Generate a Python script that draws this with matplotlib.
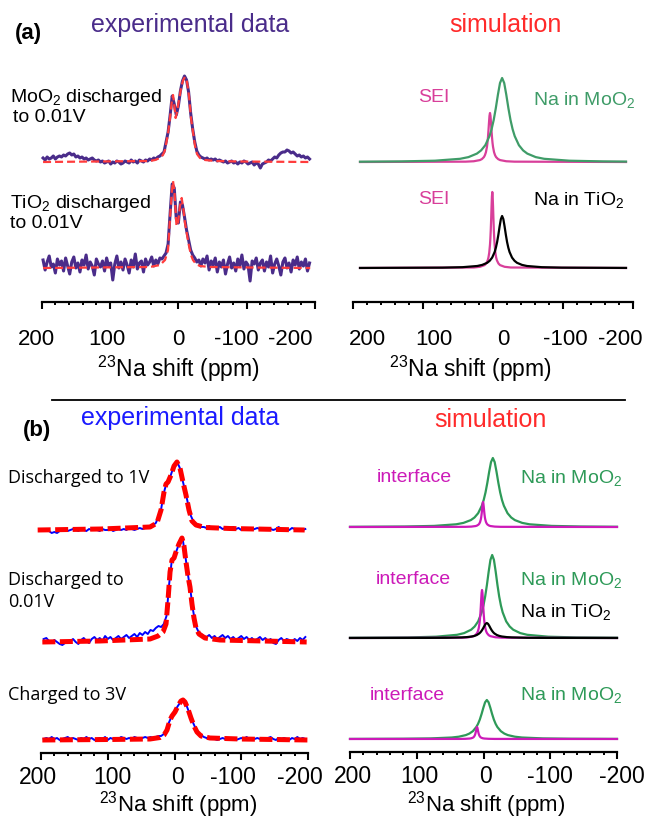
import numpy as np
import matplotlib
matplotlib.use("Agg")
import matplotlib.pyplot as plt
from matplotlib.ticker import MultipleLocator
from matplotlib.lines import Line2D

plt.rcParams['font.family'] = ['Liberation Sans', 'DejaVu Sans']
plt.rcParams['mathtext.fontset'] = 'custom'
plt.rcParams['mathtext.rm'] = 'Liberation Sans'
plt.rcParams['mathtext.default'] = 'rm'

W, H = 649, 818

# ---------------- (a) experimental, 23Na shift grid (ppm) ----------------
ppm_exp_a = np.arange(198, -193, -3)
moo2_exp_a = [4, 2, 5, 3, 4, 6, 3, 5, 6, 5, 7, 6, 8, 9, 7, 8, 5,
              6, 4, 5, 3, 4, 2, 3, 4, 2, 1, 2, 0,
              1, -1, 0, 1, -2, 0, -1, 1, 0, -2, -1, 1, 0, -1, 2, 0, 1, -1, 2, 1, 0, 2, 1,
              3, 2, 4, 3, 5, 6,
              8, 10, 20, 30, 47, 66, 58, 47, 56, 71, 81, 86, 82, 70, 49, 33, 20, 11, 7,
              5, 4, 3, 4, 2, 3, 2, 3, 1,
              2, 1, 0, 1, -1, 0, 1, -1, 0, -2, 0, -1, 1, 0, -2, -1, 0, -3, -1, -2,
              -6, -2, -1, 0, 2, 1, 3, 5, 4, 7, 9, 10, 10, 12, 11, 9, 10, 8, 6, 7, 5, 6, 4, 5, 3]
tio2_exp_a = [8, -2, 6, 12, 1, 4, -5, 9, 3, 7, -3, 10, 2, -6, 6, 11, 0,
              5, -4, 8, 3, 13, -1, 6, 2, -7, 9, 4, 1,
              7, -3, 10, 2, 5, -12, 4, 12, 0, 6, -2, 9, 3, -5, 8, 1, 14, -1, 5, 7, -4, 9, 3,
              6, 11, 2, 8, 4, 10,
              9, 12, 15, 24, 55, 84, 80, 49, 45, 66, 63, 51, 38, 28, 18, 13, 10, 6, 8,
              2, 9, 5, 12, -2, 7, 3, 10, -4,
              6, 1, 8, -6, 4, 11, 0, 5, -3, 9, 2, 13, -1, 6, 3, -13, 7, 4, 10, -2,
              5, 8, -3, 6, 1, 12, -5, 4, 9, 2, -7, 6, 10, 0, 5, -4, 8, 3, 11, -1, 6, 2, 9, -3, 5]

# (a) fits
ppm_moo2_fit_a = [198, 42, 34, 27, 22.5, 19.5, 15, 12, 9.3, 7.8, 6.4, 4, 2, -1, -4, -7, -9.7,
                  -12.7, -15.6, -18.5, -21.4, -24.4, -27.3, -31.7, -39, -54, -90, -193]
moo2_fit_a = [0, 1, 2, 4, 7, 12, 29, 45, 62, 67, 60, 44, 50, 62, 74, 82, 85,
              80, 66, 44, 30, 16, 8, 4, 2, 1, 0.5, 0]
ppm_tio2_fit_a = [198, 41.5, 26.9, 19.5, 15.1, 12.2, 9.3, 7.8, 5.6, 2.7, 0.5, -2.4, -4.9, -7.5,
                  -9.7, -12.7, -15.6, -18.5, -21.4, -25.8, -31.7, -46, -105, -193]
tio2_fit_a = [0, 1, 3, 8, 18, 50, 78, 87, 75, 42, 45, 62, 70, 58,
              45, 33, 22, 13, 8, 4, 2, 1, 0.5, 0]

# (a) simulation
ppm_na_moo2_a = [190, 131, 83, 47, 35, 23, 17, 11, 5, 2, -1, -4, -7, -10, -13, -16, -19, -22,
                 -25, -28, -31, -37, -43, -49, -61, -73, -109, -157, -190]
na_moo2_a = [0.3, 0.6, 1.3, 3.2, 4.9, 8.4, 11.6, 16.8, 25.9, 32.8, 42, 53.8, 67.2, 79, 84, 79,
             67.2, 53.8, 42, 32.8, 25.9, 16.8, 11.6, 8.4, 4.9, 3.2, 1.3, 0.6, 0.4]
ppm_sei_moo2_a = [190, 39.1, 27.5, 18.8, 15.9, 13, 11.55, 10.1, 8.65, 7.93, 7.2, 6.48, 5.75, 5.03,
                  4.3, 3.58, 2.85, 2.13, 1.4, 0.68, -0.05, -1.5, -2.95, -4.4, -7.3, -10.2,
                  -18.9, -30.5, -190]
sei_moo2_a = [0, 0.34, 0.75, 1.9, 2.9, 4.9, 6.8, 9.8, 15.1, 19.1, 24.5, 31.4, 39.2, 46.1, 49,
              46.1, 39.2, 31.4, 24.5, 19.1, 15.1, 9.8, 6.8, 4.9, 2.9, 1.9, 0.75, 0.34, 0]
ppm_sei_tio2_a = [190, 27.4, 18.6, 12, 9.8, 7.6, 6.5, 5.4, 4.3, 3.75, 3.2, 2.65, 2.1, 1.55, 1,
                  0.45, -0.1, -0.65, -1.2, -1.75, -2.3, -3.4, -4.5, -5.6, -7.8, -10, -16.6,
                  -25.4, -190]
sei_tio2_a = [0, 0.5, 1.2, 2.9, 4.5, 7.6, 10.5, 15.2, 23.4, 29.6, 38, 48.6, 60.8, 71.5, 76,
              71.5, 60.8, 48.6, 38, 29.6, 23.4, 15.2, 10.5, 7.6, 4.5, 2.9, 1.2, 0.5, 0]
ppm_na_tio2_a = [190, 72.2, 43.8, 22.5, 15.4, 8.3, 4.75, 1.2, -2.35, -4.13, -5.9, -7.68, -9.45,
                 -11.23, -13, -14.78, -16.55, -18.33, -20.1, -21.88, -23.65, -27.2, -30.75,
                 -34.3, -41.4, -48.5, -69.8, -98.2, -190]
na_tio2_a = [0.06, 0.36, 0.8, 2.0, 3.1, 5.2, 7.2, 10.4, 16, 20.3, 26, 33.3, 41.6, 48.9, 52,
             48.9, 41.6, 33.3, 26, 20.3, 16, 10.4, 7.2, 5.2, 3.1, 2.0, 0.8, 0.36, 0.08]

# ---------------- (b) experimental ----------------
ppm_exp_b = np.arange(196, -197, -4)
exp_b1 = [0, 1, -1, -3, -2, -3, -1, 0, 1, -1, 0, 1, 0, -1, 1, 0, -1, 1, 0, 1,
          0, -1, 1, 0, 0, 1, -1, 0, 1, 0, 1, 0, 2, 1, 0, 1, 2, 1, 2, 3,
          4, 5, 7, 13, 21, 37, 47, 50, 58, 64, 68, 62, 50, 39, 27, 15, 9, 6, 5, 3,
          3, 2, 4, 1, 2, 2, 3, 1, 2, 1, 2, 3, 1, 2, 0, 1, 2, 1, 0, 1,
          2, 1, 1, 0, 2, 1, 0, 1, 3, 1, 0, 1, 0, 2, 1, 0, 1, 0, 1]
exp_b2 = [3, 4, 1, -1, 2, 0, -2, -3, -1, 0, 1, 3, 0, -2, 2, 4, 1, -1, 3, 5,
          2, 4, 1, 6, 3, 5, 2, 4, 6, 3, 5, 7, 4, 6, 8, 5, 9, 7, 10, 8,
          12, 11, 14, 16, 15, 18, 26, 58, 82, 86, 93, 101, 104, 87, 68, 51, 31, 16, 10, 8,
          6, 5, 7, 4, 6, 3, 5, 7, 4, 6, 3, 5, 2, 4, 6, 3, 5, 2, 4, 1,
          3, 5, 2, 4, 1, 3, -1, -2, 2, 4, 1, 3, 2, 0, 3, 1, 4, 2, 5]
exp_b3 = [1, 2, 1, 3, 1, 2, 0, 1, 2, 3, 1, 2, 1, 0, 2, 1, 3, 1, 2, 0,
          1, 2, 1, 3, 0, 2, 1, 2, 1, 3, 2, 1, 2, 1, 3, 2, 1, 2, 3, 2,
          3, 2, 3, 4, 4, 6, 10, 18, 24, 28, 33, 37, 40, 38, 31, 24, 17, 11, 7, 5,
          3, 2, 1, 2, 1, 0, 1, 2, 1, 0, 1, 2, 0, 1, 2, 1, 3, 1, 0, 1,
          2, 1, 0, 1, 2, 3, 1, 0, 2, 1, 2, 1, 0, 2, 1, 3, 1, 2, 1]

# (b) fits
ppm_fit_b1 = [205, 110, 36.7, 26.2, 20.2, 15.7, 12.7, 9.7, 5.2, 0.7, -3.7, -8.2, -12.7, -17.2,
              -21.7, -26.2, -32.2, -45.7, -83, -195]
fit_b1 = [0, 1, 3, 7, 20, 38, 46, 48, 55, 64, 68, 62, 48, 35, 20, 9, 5, 2.5, 1.5, 0]
ppm_fit_b2 = [198, 112, 36.7, 24.7, 17.2, 12.7, 9.7, 6.7, 3.7, 0.7, -2.2, -6.7, -11.2, -14.2,
              -17.2, -20.2, -23.2, -26.2, -29.2, -32.2, -36.7, -45.7, -68, -198]
fit_b2 = [0, 1, 3, 6, 10, 18, 42, 70, 82, 84, 90, 98, 104, 96, 80, 66, 55, 38, 24, 14, 8, 4, 2, 0]
ppm_fit_b3 = [198, 98, 36.7, 21.7, 15.7, 11.2, 6.7, 3.7, -0.7, -5.2, -9.7, -12.7, -15.7, -20.2,
              -24.7, -29.2, -33.7, -39.7, -53, -98, -200]
fit_b3 = [0, 0.5, 1, 2.5, 5, 10, 20, 24, 28, 34, 39, 40, 38, 31, 22, 14, 8, 4, 2, 1, 0]

# (b) simulation
ppm_moo2_b1 = [200, 118, 74, 41, 30, 19, 13.5, 8, 2.5, -0.25, -3, -5.75, -8.5, -11.25, -14,
               -16.75, -19.5, -22.25, -25, -27.75, -30.5, -36, -41.5, -47, -58, -69, -102, -146, -200]
moo2_b1 = [0.18, 0.5, 1.1, 2.7, 4.1, 6.9, 9.5, 13.8, 21.3, 26.9, 34.5, 44.2, 55.2, 64.9, 69,
           64.9, 55.2, 44.2, 34.5, 26.9, 21.3, 13.8, 9.5, 6.9, 4.1, 2.7, 1.1, 0.5, 0.24]
ppm_int_b1 = [200, 27.1, 18.3, 11.7, 9.5, 7.3, 6.2, 5.1, 4, 3.45, 2.9, 2.35, 1.8, 1.25, 0.7,
              0.15, -0.4, -0.95, -1.5, -2.05, -2.6, -3.7, -4.8, -5.9, -8.1, -10.3, -16.9, -25.7, -200]
int_b1 = [0, 0.17, 0.39, 0.96, 1.5, 2.5, 3.45, 5, 7.7, 9.75, 12.5, 16, 20, 23.5, 25,
          23.5, 20, 16, 12.5, 9.75, 7.7, 5, 3.45, 2.5, 1.5, 0.96, 0.39, 0.17, 0]
ppm_moo2_b2 = [200, 113, 71, 39.5, 29, 18.5, 13.25, 8, 2.75, 0.13, -2.5, -5.13, -7.75, -10.38,
               -13, -15.63, -18.25, -20.88, -23.5, -26.13, -28.75, -34, -39.25, -44.5, -55,
               -65.5, -97, -139, -200]
moo2_b2 = [0.2, 0.57, 1.3, 3.2, 4.9, 8.3, 11.5, 16.6, 25.6, 32.4, 41.5, 53.1, 66.4, 78.1, 83,
           78.1, 66.4, 53.1, 41.5, 32.4, 25.6, 16.6, 11.5, 8.3, 4.9, 3.2, 1.3, 0.57, 0.26]
ppm_int_b2 = [200, 32.2, 22.2, 14.7, 12.2, 9.7, 8.45, 7.2, 5.95, 5.33, 4.7, 4.08, 3.45, 2.83,
              2.2, 1.58, 0.95, 0.33, -0.3, -0.93, -1.55, -2.8, -4.05, -5.3, -7.8, -10.3,
              -17.8, -27.8, -200]
int_b2 = [0, 0.33, 0.74, 1.85, 2.8, 4.8, 6.6, 9.6, 14.8, 18.7, 24, 30.7, 38.4, 45.2, 48,
          45.2, 38.4, 30.7, 24, 18.7, 14.8, 9.6, 6.6, 4.8, 2.8, 1.85, 0.74, 0.33, 0]
ppm_tio2_b2 = [200, 85, 55, 32.5, 25, 17.5, 13.75, 10, 6.25, 4.38, 2.5, 0.63, -1.25, -3.13, -5,
               -6.88, -8.75, -10.63, -12.5, -14.38, -16.25, -20, -23.75, -27.5, -35, -42.5,
               -65, -95, -200]
tio2_b2 = [0.02, 0.1, 0.23, 0.58, 0.88, 1.5, 2.07, 3, 4.6, 5.85, 7.5, 9.6, 12, 14.1, 15,
           14.1, 12, 9.6, 7.5, 5.85, 4.6, 3, 2.07, 1.5, 0.88, 0.58, 0.23, 0.1, 0.02]
ppm_moo2_b3 = [200, 121, 79, 47.5, 37, 26.5, 21.25, 16, 10.75, 8.13, 5.5, 2.88, 0.25, -2.38, -5,
               -7.63, -10.25, -12.88, -15.5, -18.13, -20.75, -26, -31.25, -36.5, -47, -57.5,
               -89, -131, -200]
moo2_b3 = [0.1, 0.27, 0.6, 1.5, 2.3, 3.9, 5.4, 7.8, 12, 15.2, 19.5, 25, 31.2, 36.7, 39,
           36.7, 31.2, 25, 19.5, 15.2, 12, 7.8, 5.4, 3.9, 2.3, 1.5, 0.6, 0.27, 0.1]
ppm_int_b3 = [200, 36.1, 27.3, 20.7, 18.5, 16.3, 15.2, 14.1, 13, 12.45, 11.9, 11.35, 10.8, 10.25,
              9.7, 9.15, 8.6, 8.05, 7.5, 6.95, 6.4, 5.3, 4.2, 3.1, 0.9, -1.3, -7.9, -16.7, -200]
int_b3 = [0, 0.08, 0.18, 0.46, 0.7, 1.2, 1.66, 2.4, 3.7, 4.7, 6, 7.7, 9.6, 11.3, 12,
          11.3, 9.6, 7.7, 6, 4.7, 3.7, 2.4, 1.66, 1.2, 0.7, 0.46, 0.18, 0.08, 0]

tick_vals = [200, 100, 0, -100, -200]
tick_text = ['200', '100', '0', '-100', '-200']
xlabel = '$^{23}$Na shift (ppm)'

# colours
purple = '#4a2c8a'
red_a = '#ff3c3c'
red_t = '#ff2a2a'
green_a = '#3f9c68'
pink_a = '#d83f9a'
blue = '#0000ff'
red_b = '#ff0000'
green_b = '#2e9a58'
mag_b = '#cc1ab8'

fig = plt.figure(figsize=(W / 100, H / 100), dpi=100)


def panel(x0, x1, y_axis, y_top):
    ax = fig.add_axes([x0 / W, 1 - y_axis / H, (x1 - x0) / W, (y_axis - y_top) / H])
    ax.set_xlim(200, -200)
    ax.set_ylim(0, y_axis - y_top)
    for s in ['top', 'left', 'right']:
        ax.spines[s].set_visible(False)
    ax.spines['bottom'].set_linewidth(1.6)
    ax.set_yticks([])
    ax.set_xticks(tick_vals)
    ax.xaxis.set_minor_locator(MultipleLocator(20))
    ax.tick_params(axis='x', which='major', direction='out', length=5, width=1.5,
                   labelbottom=False)
    ax.tick_params(axis='x', which='minor', direction='out', length=2.5, width=1.4)
    ax.patch.set_alpha(0)
    return ax


def tick_labels(ax, dx, below, size):
    for v, t, d in zip(tick_vals, tick_text, dx):
        ax.annotate(t, xy=(v, 0), xycoords=('data', 'axes fraction'),
                    xytext=(d, -below), textcoords='offset pixels',
                    ha='center', va='baseline', fontsize=size)


def ftext(x, y, s, **kw):
    fig.text(x / W, 1 - y / H, s, **kw)


# ---------- (a) experimental ----------
ax = panel(41.7, 315, 302, 60)
for base, ex, pf, fit in [(140, moo2_exp_a, ppm_moo2_fit_a, moo2_fit_a),
                          (34, tio2_exp_a, ppm_tio2_fit_a, tio2_fit_a)]:
    ax.plot(ppm_exp_a, base + np.array(ex), color=purple, lw=2.2, clip_on=False)
    ax.plot(pf, base + np.array(fit), color=red_a, lw=1.6, dashes=(3.6, 1.8), clip_on=False)
tick_labels(ax, [-5, -3, 0, -10, -25], 43, 16)

# ---------- (a) simulation ----------
ax = panel(353, 633, 302, 60)
ax.plot(ppm_sei_moo2_a, 140 + np.array(sei_moo2_a), color=pink_a, lw=1.6, clip_on=False)
ax.plot(ppm_na_moo2_a, 140 + np.array(na_moo2_a), color=green_a, lw=1.6, clip_on=False)
ax.plot(ppm_sei_tio2_a, 34 + np.array(sei_tio2_a), color=pink_a, lw=1.6, clip_on=False)
ax.plot(ppm_na_tio2_a, 34 + np.array(na_tio2_a), color='black', lw=1.6, clip_on=False)
tick_labels(ax, [14, 11, 10, 2, -13], 43, 16)

# ---------- (b) experimental ----------
ax = panel(41, 308, 753, 440)
for base, ex, pf, fit in [(223, exp_b1, ppm_fit_b1, fit_b1),
                          (111, exp_b2, ppm_fit_b2, fit_b2),
                          (13, exp_b3, ppm_fit_b3, fit_b3)]:
    ax.plot(ppm_exp_b, base + np.array(ex), color=blue, lw=1.4, clip_on=False)
    ax.plot(pf, base + np.array(fit), color=red_b, lw=3.6, dashes=(2.6, 0.9), clip_on=False)
tick_labels(ax, [-3, 5, 2.5, -8, -8], 31, 16.5)

# ---------- (b) simulation ----------
ax = panel(350, 617, 752, 440)
ax.plot(ppm_moo2_b1, 225 + np.array(moo2_b1), color=green_b, lw=1.6, clip_on=False)
ax.plot(ppm_int_b1, 225 + np.array(int_b1), color=mag_b, lw=1.6, clip_on=False)
ax.plot(ppm_moo2_b2, 114 + np.array(moo2_b2), color=green_b, lw=1.6, clip_on=False)
ax.plot(ppm_int_b2, 114 + np.array(int_b2), color=mag_b, lw=1.6, clip_on=False)
ax.plot(ppm_tio2_b2, 114 + np.array(tio2_b2), color='black', lw=1.6, clip_on=False)
ax.plot(ppm_moo2_b3, 13 + np.array(moo2_b3), color=green_b, lw=1.6, clip_on=False)
ax.plot(ppm_int_b3, 13 + np.array(int_b3), color=mag_b, lw=1.6, clip_on=False)
tick_labels(ax, [3, 3, 2.5, 0, 5], 31, 16.5)

# ---------- texts ----------
ftext(15, 33, '(a)', fontsize=16, fontweight='bold', va='center')
ftext(190, 25, 'experimental data', fontsize=18, color=purple, ha='center', va='center')
ftext(505, 25, 'simulation', fontsize=18, color=red_t, ha='center', va='center')
ftext(10, 97, 'MoO$_2$ discharged', fontsize=14, va='center')
ftext(13, 118, 'to 0.01V', fontsize=14, va='center')
ftext(10, 203, 'TiO$_2$ discharged', fontsize=14, va='center')
ftext(10, 224, 'to 0.01V', fontsize=14, va='center')
ftext(418, 97, 'SEI', fontsize=14, color=pink_a, va='center')
ftext(533, 100, 'Na in MoO$_2$', fontsize=14, color=green_a, va='center')
ftext(418, 200, 'SEI', fontsize=14, color=pink_a, va='center')
ftext(533, 200, 'Na in TiO$_2$', fontsize=14, color='black', va='center')
ftext(178, 377, xlabel, fontsize=16.5, ha='center', va='baseline')
ftext(470, 377, xlabel, fontsize=16.5, ha='center', va='baseline')

fig.add_artist(Line2D([52 / W, 625 / W], [1 - 400 / H] * 2, color='black', lw=1.3))

ftext(23, 430, '(b)', fontsize=16, fontweight='bold', va='center')
ftext(180, 418, 'experimental data', fontsize=18, color='#1a1aff', ha='center', va='center')
ftext(490, 420, 'simulation', fontsize=18, color=red_t, ha='center', va='center')
osans = ['Open Sans', 'DejaVu Sans']
ftext(8, 478, 'Discharged to 1V', fontsize=13, family=osans, va='center')
ftext(8, 580, 'Discharged to', fontsize=13, family=osans, va='center')
ftext(8, 602, '0.01V', fontsize=13, family=osans, va='center')
ftext(8, 695, 'Charged to 3V', fontsize=13, family=osans, va='center')
ftext(377, 478, 'interface', fontsize=14, color=mag_b, va='center')
ftext(520, 478, 'Na in MoO$_2$', fontsize=14, color=green_b, va='center')
ftext(376, 580, 'interface', fontsize=14, color=mag_b, va='center')
ftext(520, 580, 'Na in MoO$_2$', fontsize=14, color=green_b, va='center')
ftext(520, 612, 'Na in TiO$_2$', fontsize=14, color='black', va='center')
ftext(370, 695, 'interface', fontsize=14, color=mag_b, va='center')
ftext(520, 695, 'Na in MoO$_2$', fontsize=14, color=green_b, va='center')
ftext(178, 811, xlabel, fontsize=16, ha='center', va='baseline')
ftext(486, 811, xlabel, fontsize=16, ha='center', va='baseline')

fig.savefig('out.png', dpi=100)
